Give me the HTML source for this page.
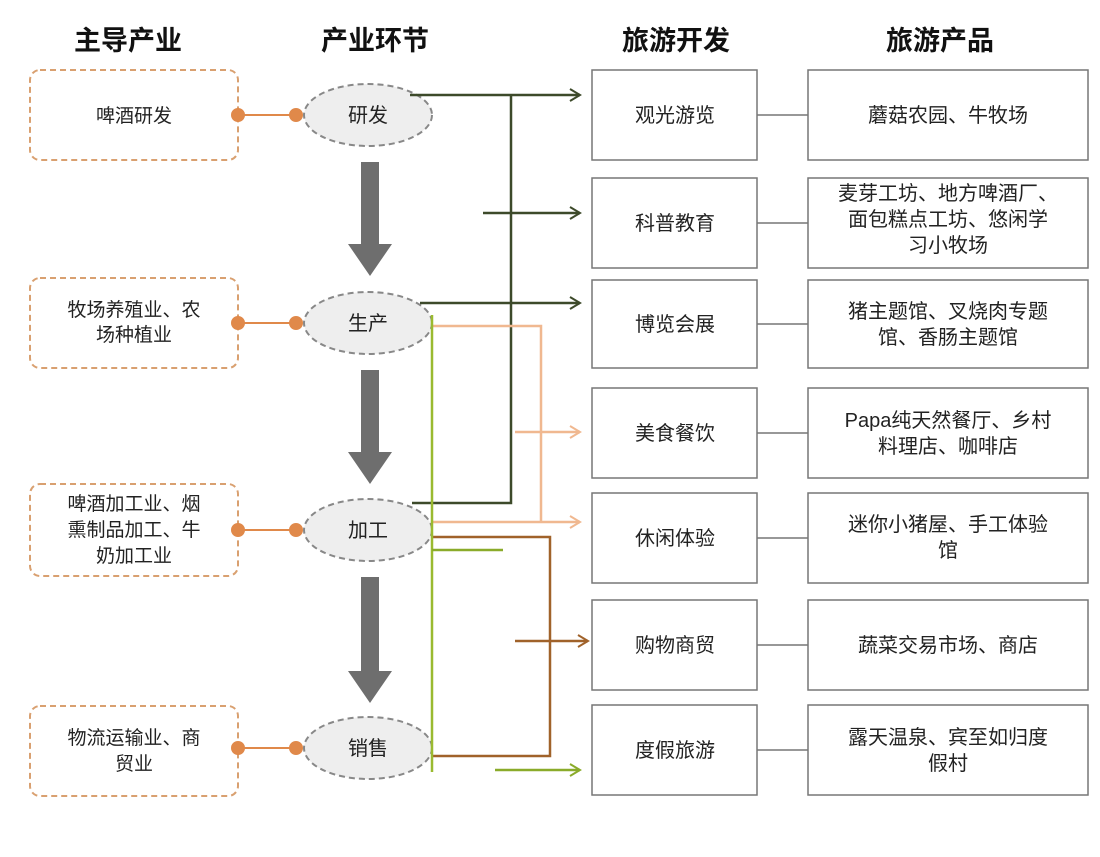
<!DOCTYPE html>
<html><head><meta charset="utf-8"><style>
body{margin:0;background:#fff;}
svg{display:block;font-family:"Liberation Sans","Noto Sans CJK SC",sans-serif;}
</style></head><body>
<svg width="1100" height="857" viewBox="0 0 1100 857">
<defs>
<marker id="a1" markerWidth="14" markerHeight="14" refX="12" refY="7" orient="auto" markerUnits="userSpaceOnUse"><path d="M2,1 L12,7 L2,13" fill="none" stroke="#3d4a2a" stroke-width="2"/></marker>
<marker id="a2" markerWidth="14" markerHeight="14" refX="12" refY="7" orient="auto" markerUnits="userSpaceOnUse"><path d="M2,1 L12,7 L2,13" fill="none" stroke="#f0b890" stroke-width="2"/></marker>
<marker id="a3" markerWidth="14" markerHeight="14" refX="12" refY="7" orient="auto" markerUnits="userSpaceOnUse"><path d="M2,1 L12,7 L2,13" fill="none" stroke="#8aab2a" stroke-width="2"/></marker>
<marker id="a4" markerWidth="14" markerHeight="14" refX="12" refY="7" orient="auto" markerUnits="userSpaceOnUse"><path d="M2,1 L12,7 L2,13" fill="none" stroke="#a0622a" stroke-width="2"/></marker>
</defs>
<g font-size="27" font-weight="bold" fill="#111" text-anchor="middle">
<text x="128" y="50">主导产业</text><text x="375" y="50">产业环节</text><text x="676" y="50">旅游开发</text><text x="940" y="50">旅游产品</text>
</g>
<g fill="none" stroke="#d9a070" stroke-width="2" stroke-dasharray="6,4">
<rect x="30" y="70" width="208" height="90" rx="10"/>
<rect x="30" y="278" width="208" height="90" rx="10"/>
<rect x="30" y="484" width="208" height="92" rx="10"/>
<rect x="30" y="706" width="208" height="90" rx="10"/>
</g>
<g font-size="19" fill="#222" text-anchor="middle">
<text x="134" y="122">啤酒研发</text>
<text x="134" y="316">牧场养殖业、农</text><text x="134" y="341">场种植业</text>
<text x="134" y="510">啤酒加工业、烟</text><text x="134" y="536">熏制品加工、牛</text><text x="134" y="562">奶加工业</text>
<text x="134" y="744">物流运输业、商</text><text x="134" y="770">贸业</text>
</g>
<g stroke="#e0894a" stroke-width="2" fill="#e0894a">
<line x1="238" y1="115" x2="296" y2="115"/><circle cx="238" cy="115" r="6"/><circle cx="296" cy="115" r="6"/>
<line x1="238" y1="323" x2="296" y2="323"/><circle cx="238" cy="323" r="6"/><circle cx="296" cy="323" r="6"/>
<line x1="238" y1="530" x2="296" y2="530"/><circle cx="238" cy="530" r="6"/><circle cx="296" cy="530" r="6"/>
<line x1="238" y1="748" x2="296" y2="748"/><circle cx="238" cy="748" r="6"/><circle cx="296" cy="748" r="6"/>
</g>
<g fill="#eeeeee" stroke="#888" stroke-width="2" stroke-dasharray="6,4">
<ellipse cx="368" cy="115" rx="64" ry="31"/><ellipse cx="368" cy="323" rx="64" ry="31"/>
<ellipse cx="368" cy="530" rx="64" ry="31"/><ellipse cx="368" cy="748" rx="64" ry="31"/>
</g>
<g font-size="20" fill="#222" text-anchor="middle">
<text x="368" y="122">研发</text><text x="368" y="330">生产</text><text x="368" y="537">加工</text><text x="368" y="755">销售</text>
</g>
<g fill="#6e6e6e">
<path d="M361,162 h18 v82 h13 l-22,32 l-22,-32 h13z"/>
<path d="M361,370 h18 v82 h13 l-22,32 l-22,-32 h13z"/>
<path d="M361,577 h18 v94 h13 l-22,32 l-22,-32 h13z"/>
</g>
<!-- connectors -->
<g fill="none" stroke-width="2.5">
<path d="M410,95 H580" stroke="#3d4a2a" marker-end="url(#a1)"/>
<path d="M511,95 V503 H412" stroke="#3d4a2a"/>
<path d="M483,213 H580" stroke="#3d4a2a" marker-end="url(#a1)"/>
<path d="M420,303 H580" stroke="#3d4a2a" marker-end="url(#a1)"/>
<path d="M432,326 H541 V522" stroke="#f0b890"/>
<path d="M515,432 H580" stroke="#f0b890" marker-end="url(#a2)"/>
<path d="M432,522 H580" stroke="#f0b890" marker-end="url(#a2)"/>
<path d="M432,537 H550 V756 H432" stroke="#a0622a"/>
<path d="M515,641 H588" stroke="#a0622a" marker-end="url(#a4)"/>
<path d="M432,315 V772" stroke="#9aba30"/>
<path d="M432,550 H503" stroke="#8aab2a"/>
<path d="M495,770 H580" stroke="#8aab2a" marker-end="url(#a3)"/>
</g>
<g fill="#fff" stroke="#777" stroke-width="1.5">
<rect x="592" y="70" width="165" height="90"/><rect x="592" y="178" width="165" height="90"/>
<rect x="592" y="280" width="165" height="88"/><rect x="592" y="388" width="165" height="90"/>
<rect x="592" y="493" width="165" height="90"/><rect x="592" y="600" width="165" height="90"/>
<rect x="592" y="705" width="165" height="90"/>
<rect x="808" y="70" width="280" height="90"/><rect x="808" y="178" width="280" height="90"/>
<rect x="808" y="280" width="280" height="88"/><rect x="808" y="388" width="280" height="90"/>
<rect x="808" y="493" width="280" height="90"/><rect x="808" y="600" width="280" height="90"/>
<rect x="808" y="705" width="280" height="90"/>
</g>
<g stroke="#777" stroke-width="1.5">
<line x1="757" y1="115" x2="808" y2="115"/><line x1="757" y1="223" x2="808" y2="223"/>
<line x1="757" y1="324" x2="808" y2="324"/><line x1="757" y1="433" x2="808" y2="433"/>
<line x1="757" y1="538" x2="808" y2="538"/><line x1="757" y1="645" x2="808" y2="645"/>
<line x1="757" y1="750" x2="808" y2="750"/>
</g>
<g font-size="20" fill="#222" text-anchor="middle">
<text x="675" y="122">观光游览</text><text x="675" y="230">科普教育</text><text x="675" y="331">博览会展</text>
<text x="675" y="440">美食餐饮</text><text x="675" y="545">休闲体验</text><text x="675" y="652">购物商贸</text>
<text x="675" y="757">度假旅游</text>
<text x="948" y="122">蘑菇农园、牛牧场</text>
<text x="948" y="200">麦芽工坊、地方啤酒厂、</text><text x="948" y="226">面包糕点工坊、悠闲学</text><text x="948" y="252">习小牧场</text>
<text x="948" y="318">猪主题馆、叉烧肉专题</text><text x="948" y="344">馆、香肠主题馆</text>
<text x="948" y="427">Papa纯天然餐厅、乡村</text><text x="948" y="453">料理店、咖啡店</text>
<text x="948" y="531">迷你小猪屋、手工体验</text><text x="948" y="557">馆</text>
<text x="948" y="652">蔬菜交易市场、商店</text>
<text x="948" y="744">露天温泉、宾至如归度</text><text x="948" y="770">假村</text>
</g>
</svg>
</body></html>
